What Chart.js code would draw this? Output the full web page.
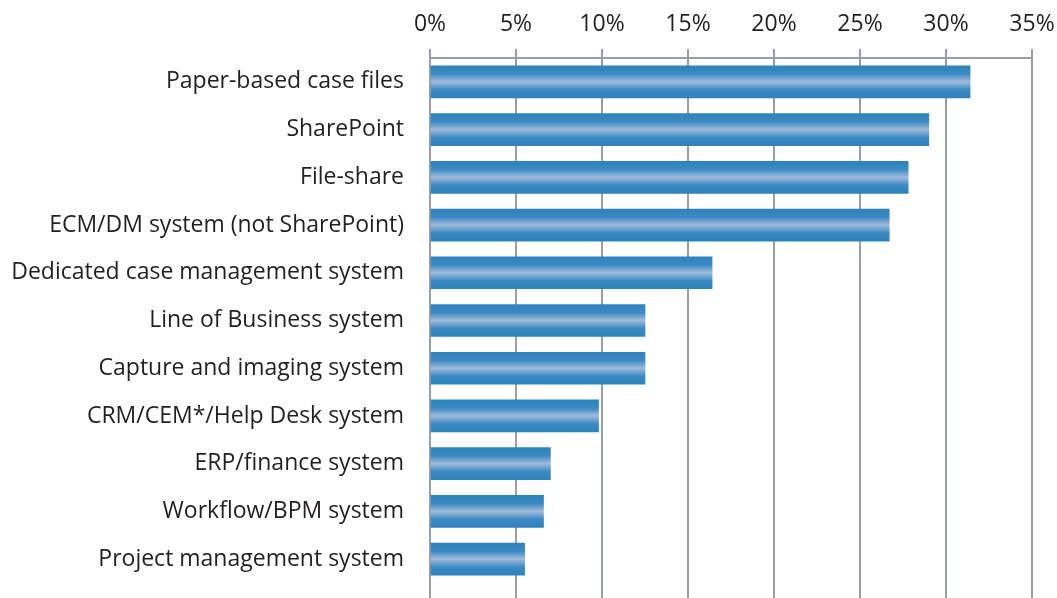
<!DOCTYPE html>
<html lang="en">
<head>
    <meta charset="UTF-8">
    <title>Case content storage</title>
    <style>
        * {
            margin: 0;
            padding: 0;
            box-sizing: border-box;
        }

        body {
            background-color: #ffffff;
        }

        .chart-box {
            width: 1057px;
            height: 598px;
        }
    </style>
    <script src="https://cdn.jsdelivr.net/npm/chart.js@4/dist/chart.umd.min.js"></script>
</head>
<body>
    <div class="chart-box">
        <canvas id="storageChart" width="1057" height="598"></canvas>
    </div>

    <script>
        // Data
        const categories = [
            'Paper-based case files',
            'SharePoint',
            'File-share',
            'ECM/DM system (not SharePoint)',
            'Dedicated case management system',
            'Line of Business system',
            'Capture and imaging system',
            'CRM/CEM*/Help Desk system',
            'ERP/finance system',
            'Workflow/BPM system',
            'Project management system'
        ];
        const shares = [31.4, 29.0, 27.8, 26.7, 16.4, 12.5, 12.5, 9.8, 7.0, 6.6, 5.5];
        const tickMax = 35;
        const tickStep = 5;

        const gridColor = '#9a9ea5';
        const textColor = '#231f20';
        const barHeight = 32;

        // bars get a lighter stripe through the middle
        function barGradient(c) {
            const chart = c.chart;
            if (!chart.chartArea || c.type !== 'data') return '#2e83bd';
            const y = chart.scales.y.getPixelForValue(c.dataIndex);
            const g = chart.ctx.createLinearGradient(0, y - barHeight / 2, 0, y + barHeight / 2);
            g.addColorStop(0, '#2e83bd');
            g.addColorStop(0.25, '#3b89c3');
            g.addColorStop(0.5, '#9fbbdb');
            g.addColorStop(0.75, '#3b89c3');
            g.addColorStop(1, '#2e83bd');
            return g;
        }

        // gridlines run on to the bottom edge of the picture
        const gridToBottom = {
            id: 'gridToBottom',
            afterDraw(chart) {
                const ctx = chart.ctx;
                const x = chart.scales.x;
                ctx.save();
                ctx.strokeStyle = gridColor;
                ctx.lineWidth = 2;
                x.ticks.forEach((t, i) => {
                    const px = Math.round(x.getPixelForTick(i));
                    ctx.beginPath();
                    ctx.moveTo(px, chart.chartArea.bottom);
                    ctx.lineTo(px, chart.height);
                    ctx.stroke();
                });
                ctx.restore();
            }
        };

        new Chart(document.getElementById('storageChart'), {
            type: 'bar',
            data: {
                labels: categories,
                datasets: [{
                    data: shares,
                    backgroundColor: barGradient,
                    borderWidth: 0,
                    barThickness: barHeight
                }]
            },
            options: {
                indexAxis: 'y',
                responsive: false,
                animation: false,
                layout: {
                    autoPadding: false,
                    padding: { left: 0, right: 25, top: 0, bottom: 15 }
                },
                plugins: {
                    legend: { display: false },
                    tooltip: { enabled: false }
                },
                scales: {
                    x: {
                        position: 'top',
                        min: 0,
                        max: tickMax,
                        afterFit(scale) {
                            scale.height = 58;
                            scale.paddingLeft = 0;
                            scale.paddingRight = 0;
                        },
                        ticks: {
                            stepSize: tickStep,
                            padding: 11,
                            color: textColor,
                            font: { family: 'Open Sans', size: 23 },
                            callback: v => v + '%'
                        },
                        grid: {
                            color: gridColor,
                            lineWidth: 2,
                            tickLength: 9
                        },
                        border: {
                            color: gridColor,
                            width: 2
                        }
                    },
                    y: {
                        // fixed width, and no label overhang eating into the plot height
                        afterFit(scale) {
                            scale.width = 430;
                            scale.paddingTop = 0;
                            scale.paddingBottom = 0;
                        },
                        ticks: {
                            padding: 26,
                            color: textColor,
                            font: { family: 'Open Sans', size: 23 }
                        },
                        grid: { display: false, drawTicks: false },
                        border: { display: false }
                    }
                }
            },
            plugins: [gridToBottom]
        });
    </script>
</body>
</html>
